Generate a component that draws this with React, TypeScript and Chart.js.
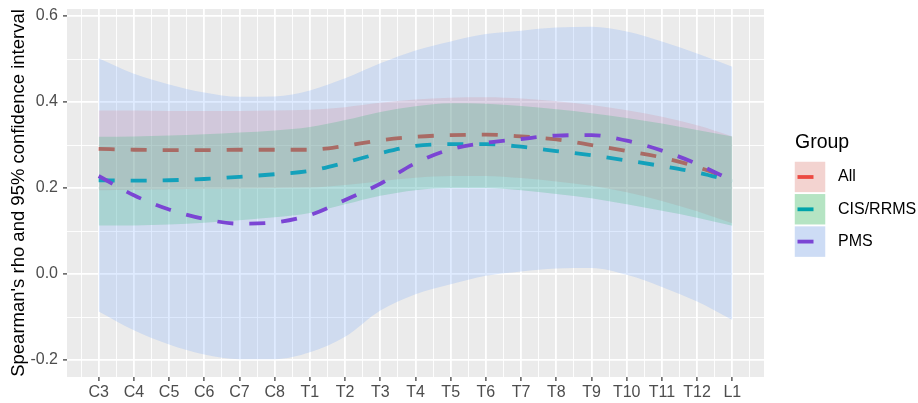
import React, { useEffect, useRef } from 'react';
import { Chart, registerables } from 'chart.js';

Chart.register(...registerables);

const categories = ['C3', 'C4', 'C5', 'C6', 'C7', 'C8', 'T1', 'T2', 'T3', 'T4', 'T5', 'T6', 'T7', 'T8', 'T9', 'T10', 'T11', 'T12', 'L1'];

const allMean = [0.291, 0.289, 0.288, 0.288, 0.289, 0.289, 0.289, 0.298, 0.311, 0.319, 0.323, 0.324, 0.320, 0.313, 0.300, 0.286, 0.271, 0.249, 0.219];
const allLower = [0.195, 0.196, 0.197, 0.198, 0.199, 0.200, 0.201, 0.207, 0.216, 0.224, 0.228, 0.228, 0.223, 0.215, 0.205, 0.190, 0.170, 0.146, 0.118];
const allUpper = [0.380, 0.380, 0.379, 0.379, 0.379, 0.380, 0.382, 0.388, 0.398, 0.406, 0.410, 0.411, 0.408, 0.402, 0.393, 0.381, 0.366, 0.346, 0.320];

const cisMean = [0.218, 0.217, 0.218, 0.221, 0.226, 0.232, 0.240, 0.259, 0.281, 0.298, 0.302, 0.302, 0.296, 0.286, 0.276, 0.264, 0.251, 0.236, 0.216];
const cisLower = [0.113, 0.113, 0.115, 0.119, 0.125, 0.132, 0.142, 0.162, 0.182, 0.195, 0.200, 0.200, 0.195, 0.186, 0.176, 0.162, 0.147, 0.131, 0.112];
const cisUpper = [0.319, 0.320, 0.322, 0.325, 0.329, 0.334, 0.342, 0.358, 0.377, 0.390, 0.397, 0.396, 0.391, 0.383, 0.374, 0.363, 0.350, 0.335, 0.320];

const pmsMean = [0.228, 0.183, 0.150, 0.128, 0.117, 0.120, 0.137, 0.172, 0.210, 0.258, 0.290, 0.305, 0.314, 0.322, 0.323, 0.310, 0.287, 0.256, 0.217];
const pmsLower = [-0.087, -0.131, -0.164, -0.187, -0.198, -0.198, -0.182, -0.146, -0.085, -0.047, -0.024, -0.004, 0.006, 0.013, 0.014, -0.002, -0.030, -0.064, -0.107];
const pmsUpper = [0.502, 0.466, 0.441, 0.422, 0.412, 0.413, 0.427, 0.455, 0.490, 0.520, 0.541, 0.558, 0.566, 0.573, 0.575, 0.564, 0.541, 0.513, 0.482];

const groupNames = ['All', 'CIS/RRMS', 'PMS'];
const yTickValues = [-0.2, -0.1, 0.0, 0.1, 0.2, 0.3, 0.4, 0.5, 0.6];
const yTitle = "Spearman's rho and 95% confidence interval";
const legendTitle = 'Group';

const FONT = "'Liberation Sans', Arial, Helvetica, sans-serif";
const lineColors = ['#EC4A42', '#00A3AA', '#7B45D4'];
const fillColors = ['rgba(248,118,109,0.2)', 'rgba(0,186,56,0.2)', 'rgba(97,156,255,0.2)'];
const keyColors = ['rgba(248,118,109,0.25)', 'rgba(0,186,56,0.25)', 'rgba(97,156,255,0.25)'];

export default function App() {
  const ref = useRef<HTMLCanvasElement | null>(null);

  useEffect(() => {
    document.body.style.margin = '0';
    const canvas = ref.current;
    if (!canvas) return;

    const groups = [
      { name: groupNames[0], mean: allMean, lower: allLower, upper: allUpper },
      { name: groupNames[1], mean: cisMean, lower: cisLower, upper: cisUpper },
      { name: groupNames[2], mean: pmsMean, lower: pmsLower, upper: pmsUpper },
    ];
    const toPts = (arr: number[]) => arr.map((y, i) => ({ x: i + 1, y }));
    const datasets: any[] = [];
    let order = 100;
    groups.forEach((g, gi) => {
      const lowerIndex = datasets.length;
      datasets.push({
        label: g.name + ' lower', data: toPts(g.lower), borderWidth: 0, borderColor: 'rgba(0,0,0,0)',
        pointRadius: 0, pointHitRadius: 0, fill: false, order: 1000, cubicInterpolationMode: 'monotone',
      });
      datasets.push({
        label: g.name + ' upper', data: toPts(g.upper), borderWidth: 0, borderColor: 'rgba(0,0,0,0)',
        pointRadius: 0, pointHitRadius: 0, fill: lowerIndex, backgroundColor: fillColors[gi],
        order: order--, cubicInterpolationMode: 'monotone',
      });
      datasets.push({
        label: g.name, data: toPts(g.mean), borderColor: lineColors[gi], borderWidth: 3.8,
        borderDash: [16, 16], borderCapStyle: 'butt', pointRadius: 0, pointHitRadius: 0,
        fill: false, order: order--, cubicInterpolationMode: 'monotone',
      });
    });

    const panelBg = {
      id: 'panelBg',
      beforeDraw(chart: any) {
        const { ctx, chartArea } = chart;
        ctx.save();
        ctx.fillStyle = '#EBEBEB';
        ctx.fillRect(chartArea.left, chartArea.top, chartArea.right - chartArea.left, chartArea.bottom - chartArea.top);
        ctx.restore();
      },
    };

    const ggLegend = {
      id: 'ggLegend',
      afterDraw(chart: any) {
        const ctx = chart.ctx;
        ctx.save();
        ctx.fillStyle = '#000000';
        ctx.font = `19.5px ${FONT}`;
        ctx.textBaseline = 'alphabetic';
        ctx.textAlign = 'left';
        ctx.fillText(legendTitle, 795, 148);
        const x0 = 794;
        const size = 32;
        groupNames.forEach((name, i) => {
          const y = 161 + i * 32.3;
          ctx.fillStyle = '#F2F2F2';
          ctx.fillRect(x0, y, size, size);
          ctx.fillStyle = keyColors[i];
          ctx.fillRect(x0, y, size, size);
          ctx.strokeStyle = '#FFFFFF';
          ctx.lineWidth = 1.5;
          ctx.strokeRect(x0, y, size, size);
          ctx.strokeStyle = lineColors[i];
          ctx.lineWidth = 3.8;
          ctx.lineCap = 'butt';
          ctx.beginPath();
          ctx.moveTo(x0 + 3.5, y + size / 2);
          ctx.lineTo(x0 + 19.5, y + size / 2);
          ctx.stroke();
          ctx.fillStyle = '#000000';
          ctx.font = `16px ${FONT}`;
          ctx.textBaseline = 'middle';
          ctx.fillText(name, 838, y + size / 2);
        });
        ctx.restore();
      },
    };

    const xTicks: number[] = [];
    for (let k = 1; k <= 39; k++) xTicks.push(k / 2);

    const chart = new Chart(canvas, {
      type: 'line',
      data: { datasets },
      plugins: [panelBg, ggLegend],
      options: {
        animation: false,
        responsive: false,
        devicePixelRatio: 1,
        layout: { padding: { top: 9, right: 154, bottom: 0, left: 0 } },
        plugins: { legend: { display: false }, tooltip: { enabled: false } },
        elements: { line: { tension: 0.4 } },
        scales: {
          x: {
            type: 'linear',
            min: 0.1,
            max: 19.9,
            afterBuildTicks: (s: any) => { s.ticks = xTicks.map((v) => ({ value: v })); },
            afterFit: (s: any) => { s.height = 26; s.paddingLeft = 0; s.paddingRight = 0; },
            border: { display: false },
            grid: {
              color: '#FFFFFF',
              lineWidth: (c: any) => (c.tick && Number.isInteger(c.tick.value) ? 1.8 : 0.9),
              drawTicks: true,
              tickLength: 4,
              tickWidth: 1.2,
              tickColor: (c: any) => (c.tick && Number.isInteger(c.tick.value) ? '#333333' : 'rgba(0,0,0,0)'),
            },
            ticks: {
              autoSkip: false,
              maxRotation: 0,
              minRotation: 0,
              padding: 2,
              color: '#4D4D4D',
              font: { family: FONT, size: 16 },
              callback: (v: any) => (Number.isInteger(v) ? categories[v - 1] : ''),
            },
          },
          y: {
            type: 'linear',
            min: -0.2395,
            max: 0.6163,
            afterBuildTicks: (s: any) => { s.ticks = yTickValues.map((v) => ({ value: v })); },
            afterFit: (s: any) => { s.width = 67; s.paddingTop = 0; s.paddingBottom = 0; },
            border: { display: false },
            title: {
              display: true,
              text: yTitle,
              color: '#000000',
              font: { family: FONT, size: 18.5 },
              padding: { top: 8, bottom: 0 },
            },
            grid: {
              color: '#FFFFFF',
              lineWidth: (c: any) => (c.tick && Math.round(c.tick.value * 10) % 2 === 0 ? 1.8 : 0.9),
              drawTicks: true,
              tickLength: 4,
              tickWidth: 1.2,
              tickColor: (c: any) => (c.tick && Math.round(c.tick.value * 10) % 2 === 0 ? '#333333' : 'rgba(0,0,0,0)'),
            },
            ticks: {
              autoSkip: false,
              padding: 5,
              color: '#4D4D4D',
              font: { family: FONT, size: 16 },
              callback: (v: any) => (Math.round(v * 10) % 2 === 0 ? Number(v).toFixed(1) : ''),
            },
          },
        },
      } as any,
    });

    return () => chart.destroy();
  }, []);

  return (
    <div style={{ width: 918, height: 403 }}>
      <canvas ref={ref} width={918} height={403} style={{ display: 'block', width: 918, height: 403 }} />
    </div>
  );
}
